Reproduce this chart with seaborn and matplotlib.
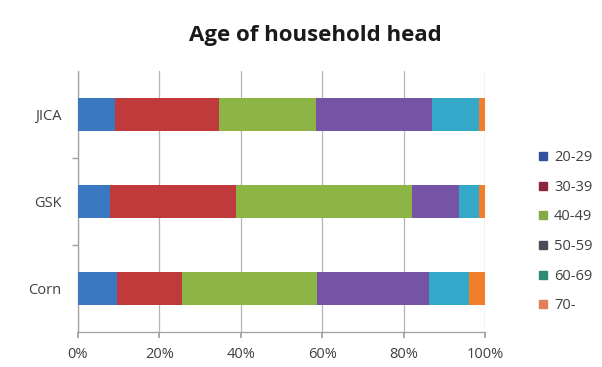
import matplotlib
matplotlib.use("Agg")
import matplotlib.pyplot as plt
from matplotlib.lines import Line2D
from matplotlib.ticker import PercentFormatter
import numpy as np
import pandas as pd
import seaborn as sns

# Survey groups and the share of household heads in each age band (%)
groups = ["JICA", "GSK", "Corn"]
age_bands = ["20-29", "30-39", "40-49", "50-59", "60-69", "70-"]
jica = [9.1, 25.6, 23.8, 28.4, 11.7, 1.4]
gsk = [7.9, 30.8, 43.4, 11.5, 5.0, 1.4]
corn = [9.7, 15.8, 33.3, 27.4, 9.9, 3.9]
x_ticks = [0, 20, 40, 60, 80, 100]

bar_colors = ["#3b78c2", "#c03a3c", "#8cb545", "#7554a6", "#34a8c8", "#f07e2a"]
legend_colors = ["#33509c", "#8c2440", "#86a846", "#4c4b5c", "#2e8a70", "#e07f58"]

sns.set_theme(style="white")
plt.rcParams["font.family"] = ["Open Sans", "DejaVu Sans"]

df = pd.DataFrame([jica, gsk, corn], index=groups, columns=age_bands)
cum = df.cumsum(axis=1)

fig = plt.figure(figsize=(6.02, 3.67), dpi=100)
ax = fig.add_axes([78 / 602, 1 - 332 / 367, (485 - 78) / 602, (332 - 71) / 367])

# Stacked bars: draw cumulative totals from the outermost band inwards
for band, color in reversed(list(zip(age_bands, bar_colors))):
    part = pd.DataFrame({"group": groups, "value": cum[band].values})
    sns.barplot(data=part, x="value", y="group", orient="h", color=color,
                width=0.39, saturation=1, ax=ax, zorder=3, linewidth=0)

ax.set_xlim(0, 100)
ax.set_ylim(2.5, -0.5)
ax.set_xticks(x_ticks)
ax.xaxis.set_major_formatter(PercentFormatter(decimals=0))
ax.set_xlabel("")
ax.set_ylabel("")
ax.grid(axis="x", color="#b5b5b5", linewidth=0.9, zorder=0)
ax.grid(axis="y", visible=False)
for side in ["top", "right"]:
    ax.spines[side].set_visible(False)
for side in ["left", "bottom"]:
    ax.spines[side].set_color("#a0a0a0")
    ax.spines[side].set_linewidth(0.9)

ax.tick_params(axis="x", length=4, color="#a0a0a0", labelsize=10.5,
               labelcolor="#404040", pad=7, bottom=True)
ax.tick_params(axis="y", length=0, labelsize=10.5, labelcolor="#404040", pad=12)
ax.set_yticks([0, 1, 2], minor=False)
ax.set_yticks([0.5, 1.5], minor=True)
ax.tick_params(axis="y", which="minor", length=4, color="#a0a0a0", left=True)

fig.text(315 / 602, 1 - 36 / 367, "Age of household head", ha="center",
         va="center", fontsize=16, fontweight="bold", color="#1a1a1a")

handles = [Line2D([0], [0], marker="s", linestyle="", markersize=5.5,
                  markerfacecolor=c, markeredgecolor=c) for c in legend_colors]
fig.legend(handles, age_bands, loc="upper left",
           bbox_to_anchor=(530 / 602, 1 - 143 / 367), frameon=False,
           fontsize=10.5, labelcolor="#404040", handlelength=0.8,
           handletextpad=0.35, labelspacing=1.0, borderpad=0)

fig.savefig("out.png", dpi=100, facecolor="white")
